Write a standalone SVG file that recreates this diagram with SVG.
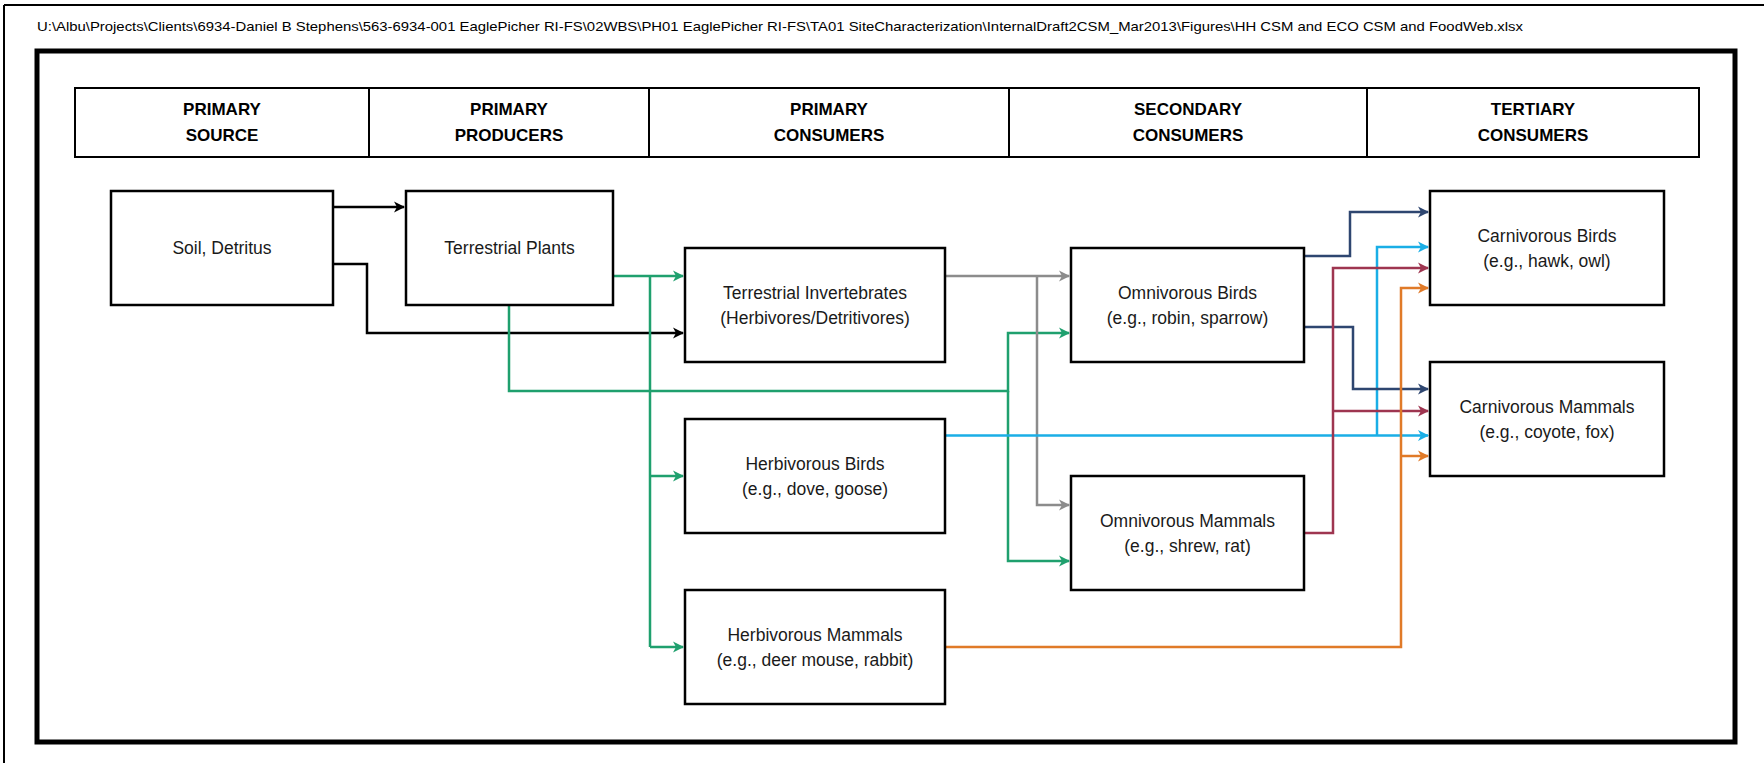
<svg xmlns="http://www.w3.org/2000/svg" width="1764" height="763" viewBox="0 0 1764 763">
<style>
  .node rect{fill:#fff;stroke:#000;stroke-width:2.5}
  .t{font-family:"Liberation Sans",Arial,sans-serif;font-size:17.5px;fill:#1a1a1a;text-anchor:middle}
  .h{font-family:"Liberation Sans",Arial,sans-serif;font-size:17px;font-weight:bold;fill:#000;text-anchor:middle}
  .path{font-family:"Liberation Sans",Arial,sans-serif;font-size:13px;fill:#000}
  .c{fill:none;stroke-width:2.5}
  .k{stroke:#000}.g{stroke:#1fa06e}.gr{stroke:#8c8c8c}.b{stroke:#1aaee6}.n{stroke:#2e4670}.r{stroke:#9e3550}.o{stroke:#e07a28}
</style>
<defs>
  <marker id="ak" markerWidth="12" markerHeight="12" refX="10" refY="6" orient="auto" markerUnits="userSpaceOnUse"><path d="M0,0.5 L11,6 L0,11.5 L3,6 z" fill="#000"/></marker>
  <marker id="ag" markerWidth="12" markerHeight="12" refX="10" refY="6" orient="auto" markerUnits="userSpaceOnUse"><path d="M0,0.5 L11,6 L0,11.5 L3,6 z" fill="#1fa06e"/></marker>
  <marker id="agr" markerWidth="12" markerHeight="12" refX="10" refY="6" orient="auto" markerUnits="userSpaceOnUse"><path d="M0,0.5 L11,6 L0,11.5 L3,6 z" fill="#8c8c8c"/></marker>
  <marker id="ab" markerWidth="12" markerHeight="12" refX="10" refY="6" orient="auto" markerUnits="userSpaceOnUse"><path d="M0,0.5 L11,6 L0,11.5 L3,6 z" fill="#1aaee6"/></marker>
  <marker id="an" markerWidth="12" markerHeight="12" refX="10" refY="6" orient="auto" markerUnits="userSpaceOnUse"><path d="M0,0.5 L11,6 L0,11.5 L3,6 z" fill="#2e4670"/></marker>
  <marker id="ar" markerWidth="12" markerHeight="12" refX="10" refY="6" orient="auto" markerUnits="userSpaceOnUse"><path d="M0,0.5 L11,6 L0,11.5 L3,6 z" fill="#9e3550"/></marker>
  <marker id="ao" markerWidth="12" markerHeight="12" refX="10" refY="6" orient="auto" markerUnits="userSpaceOnUse"><path d="M0,0.5 L11,6 L0,11.5 L3,6 z" fill="#e07a28"/></marker>
</defs>
<rect width="1764" height="763" fill="#fff"/>
<g id="page-border" fill="none" stroke="#000" stroke-width="2">
  <line x1="4" y1="5" x2="1764" y2="5"/>
  <line x1="4" y1="5" x2="4" y2="763"/>
</g>
<text class="path" x="37" y="31" textLength="1486" lengthAdjust="spacingAndGlyphs">U:\Albu\Projects\Clients\6934-Daniel B Stephens\563-6934-001 EaglePicher RI-FS\02WBS\PH01 EaglePicher RI-FS\TA01 SiteCharacterization\InternalDraft2CSM_Mar2013\Figures\HH CSM and ECO CSM and FoodWeb.xlsx</text>
<rect id="frame" x="37" y="51" width="1698" height="691" fill="none" stroke="#000" stroke-width="5"/>
<g id="header">
  <rect x="75" y="88" width="1624" height="69" fill="#fff" stroke="#000" stroke-width="2"/>
  <g stroke="#000" stroke-width="2">
    <line x1="369" y1="88" x2="369" y2="157"/>
    <line x1="649" y1="88" x2="649" y2="157"/>
    <line x1="1009" y1="88" x2="1009" y2="157"/>
    <line x1="1367" y1="88" x2="1367" y2="157"/>
  </g>
  <text class="h" x="222" y="115">PRIMARY</text><text class="h" x="222" y="141">SOURCE</text>
  <text class="h" x="509" y="115">PRIMARY</text><text class="h" x="509" y="141">PRODUCERS</text>
  <text class="h" x="829" y="115">PRIMARY</text><text class="h" x="829" y="141">CONSUMERS</text>
  <text class="h" x="1188" y="115">SECONDARY</text><text class="h" x="1188" y="141">CONSUMERS</text>
  <text class="h" x="1533" y="115">TERTIARY</text><text class="h" x="1533" y="141">CONSUMERS</text>
</g>
<g id="connectors">
  <path class="c k" d="M333,207 H404" marker-end="url(#ak)"/>
  <path class="c k" d="M333,264 H367 V333 H683" marker-end="url(#ak)"/>
  <path class="c g" d="M613,276 H683" marker-end="url(#ag)"/>
  <path class="c g" d="M650,276 V647"/>
  <path class="c g" d="M650,476 H683" marker-end="url(#ag)"/>
  <path class="c g" d="M650,647 H683" marker-end="url(#ag)"/>
  <path class="c g" d="M509,305 V391 H1008 V333 H1069" marker-end="url(#ag)"/>
  <path class="c g" d="M1008,391 V561 H1069" marker-end="url(#ag)"/>
  <path class="c gr" d="M945,276 H1069" marker-end="url(#agr)"/>
  <path class="c gr" d="M1037,276 V505 H1069" marker-end="url(#agr)"/>
  <path class="c b" d="M945,435.5 H1428" marker-end="url(#ab)"/>
  <path class="c b" d="M1377,435.5 V247 H1428" marker-end="url(#ab)"/>
  <path class="c n" d="M1304,256 H1350 V212 H1428" marker-end="url(#an)"/>
  <path class="c n" d="M1304,327 H1353 V389 H1428" marker-end="url(#an)"/>
  <path class="c r" d="M1304,533 H1333 V268 H1428" marker-end="url(#ar)"/>
  <path class="c r" d="M1333,411 H1428" marker-end="url(#ar)"/>
  <path class="c o" d="M945,647 H1401 V288 H1428" marker-end="url(#ao)"/>
  <path class="c o" d="M1401,456 H1428" marker-end="url(#ao)"/>
</g>
<g id="soil" class="node"><rect x="111" y="191" width="222" height="114"/><text class="t" x="222" y="254">Soil, Detritus</text></g>
<g id="plants" class="node"><rect x="406" y="191" width="207" height="114"/><text class="t" x="509.5" y="254">Terrestrial Plants</text></g>
<g id="invertebrates" class="node"><rect x="685" y="248" width="260" height="114"/><text class="t" x="815" y="298.5">Terrestrial Invertebrates</text><text class="t" x="815" y="323.5">(Herbivores/Detritivores)</text></g>
<g id="herb-birds" class="node"><rect x="685" y="419" width="260" height="114"/><text class="t" x="815" y="469.5">Herbivorous Birds</text><text class="t" x="815" y="494.5">(e.g., dove, goose)</text></g>
<g id="herb-mammals" class="node"><rect x="685" y="590" width="260" height="114"/><text class="t" x="815" y="640.5">Herbivorous Mammals</text><text class="t" x="815" y="665.5">(e.g., deer mouse, rabbit)</text></g>
<g id="omni-birds" class="node"><rect x="1071" y="248" width="233" height="114"/><text class="t" x="1187.5" y="298.5">Omnivorous Birds</text><text class="t" x="1187.5" y="323.5">(e.g., robin, sparrow)</text></g>
<g id="omni-mammals" class="node"><rect x="1071" y="476" width="233" height="114"/><text class="t" x="1187.5" y="526.5">Omnivorous Mammals</text><text class="t" x="1187.5" y="551.5">(e.g., shrew, rat)</text></g>
<g id="carn-birds" class="node"><rect x="1430" y="191" width="234" height="114"/><text class="t" x="1547" y="241.5">Carnivorous Birds</text><text class="t" x="1547" y="266.5">(e.g., hawk, owl)</text></g>
<g id="carn-mammals" class="node"><rect x="1430" y="362" width="234" height="114"/><text class="t" x="1547" y="412.5">Carnivorous Mammals</text><text class="t" x="1547" y="437.5">(e.g., coyote, fox)</text></g>
</svg>
